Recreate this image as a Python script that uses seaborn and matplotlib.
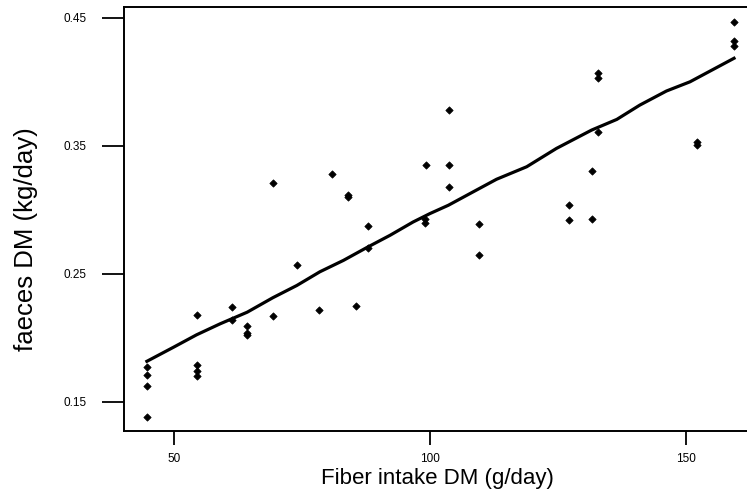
import pandas as pd
import seaborn as sns
import matplotlib.pyplot as plt

# observed points: fiber intake (g/day) vs faeces DM (kg/day)
fiber = [44.7, 44.7, 44.7, 44.7,
         54.4, 54.4, 54.4, 54.4,
         61.3, 61.3,
         64.3, 64.3, 64.3,
         69.3, 69.3,
         74.0, 78.4, 80.9,
         84.0, 84.0,
         85.6,
         87.8, 87.8,
         99.0, 99.0, 99.3,
         103.7, 103.7, 103.7,
         109.6, 109.6,
         127.1, 127.1,
         131.6, 131.6,
         132.8, 132.8, 132.8,
         152.2, 152.2,
         159.4, 159.4, 159.4]
faeces = [0.177, 0.171, 0.162, 0.138,
          0.218, 0.179, 0.174, 0.170,
          0.224, 0.214,
          0.209, 0.204, 0.202,
          0.321, 0.217,
          0.257, 0.222, 0.328,
          0.312, 0.310,
          0.225,
          0.287, 0.270,
          0.293, 0.290, 0.335,
          0.378, 0.335, 0.318,
          0.289, 0.265,
          0.304, 0.292,
          0.330, 0.293,
          0.407, 0.403, 0.361,
          0.353, 0.351,
          0.447, 0.432, 0.428]

# smoothed curve
fit_x = [44.7, 49.9, 54.4, 59.0, 64.3, 69.3, 74.0, 78.5, 83.1, 87.6, 92.2,
         96.7, 100.0, 103.6, 108.5, 113.0, 118.9, 124.7, 131.6, 136.5,
         141.0, 146.2, 150.8, 159.4]
fit_y = [0.1816, 0.1926, 0.2023, 0.2109, 0.2200, 0.2313, 0.2409, 0.2516,
         0.2605, 0.2704, 0.2801, 0.2905, 0.2971, 0.3036, 0.3142, 0.3239,
         0.3337, 0.3480, 0.3624, 0.3707, 0.3819, 0.3929, 0.4001, 0.4185]

pts = pd.DataFrame({"fiber": fiber, "faeces": faeces})
fit = pd.DataFrame({"fiber": fit_x, "faeces": fit_y})

plt.rcParams['font.family'] = ['Liberation Sans', 'DejaVu Sans']

fig = plt.figure(figsize=(7.47, 4.98), dpi=100)
ax = fig.add_axes([0.166, 0.135, 0.855, 0.851])

sns.scatterplot(data=pts, x="fiber", y="faeces", marker="D", s=14,
                color="black", edgecolor="black", linewidth=0.5, ax=ax)
sns.lineplot(data=fit, x="fiber", y="faeces", color="black", linewidth=2.3,
             sort=True, estimator=None, ax=ax)

ax.set_xlim(40.23, 165)
ax.set_ylim(0.1273, 0.4586)
ax.set_xticks([50, 100, 150])
ax.set_xticklabels(["50", "100", "150"])
ax.set_yticks([0.15, 0.25, 0.35, 0.45])
ax.set_yticklabels(["0.15", "0.25", "0.35", "0.45"])

for s in ax.spines.values():
    s.set_linewidth(1.4)
ax.tick_params(axis="y", length=16, width=1.3, pad=11, labelsize=8.5)
ax.tick_params(axis="x", length=10, width=1.3, pad=6, labelsize=8.5)

ax.set_xlabel("Fiber intake DM (g/day)", fontsize=16)
ax.set_ylabel("faeces DM (kg/day)", fontsize=18.5)
ax.xaxis.set_label_coords(0.49, -0.088)
ax.yaxis.set_label_coords(-0.135, 0.452)

plt.savefig("out.png", dpi=100)
